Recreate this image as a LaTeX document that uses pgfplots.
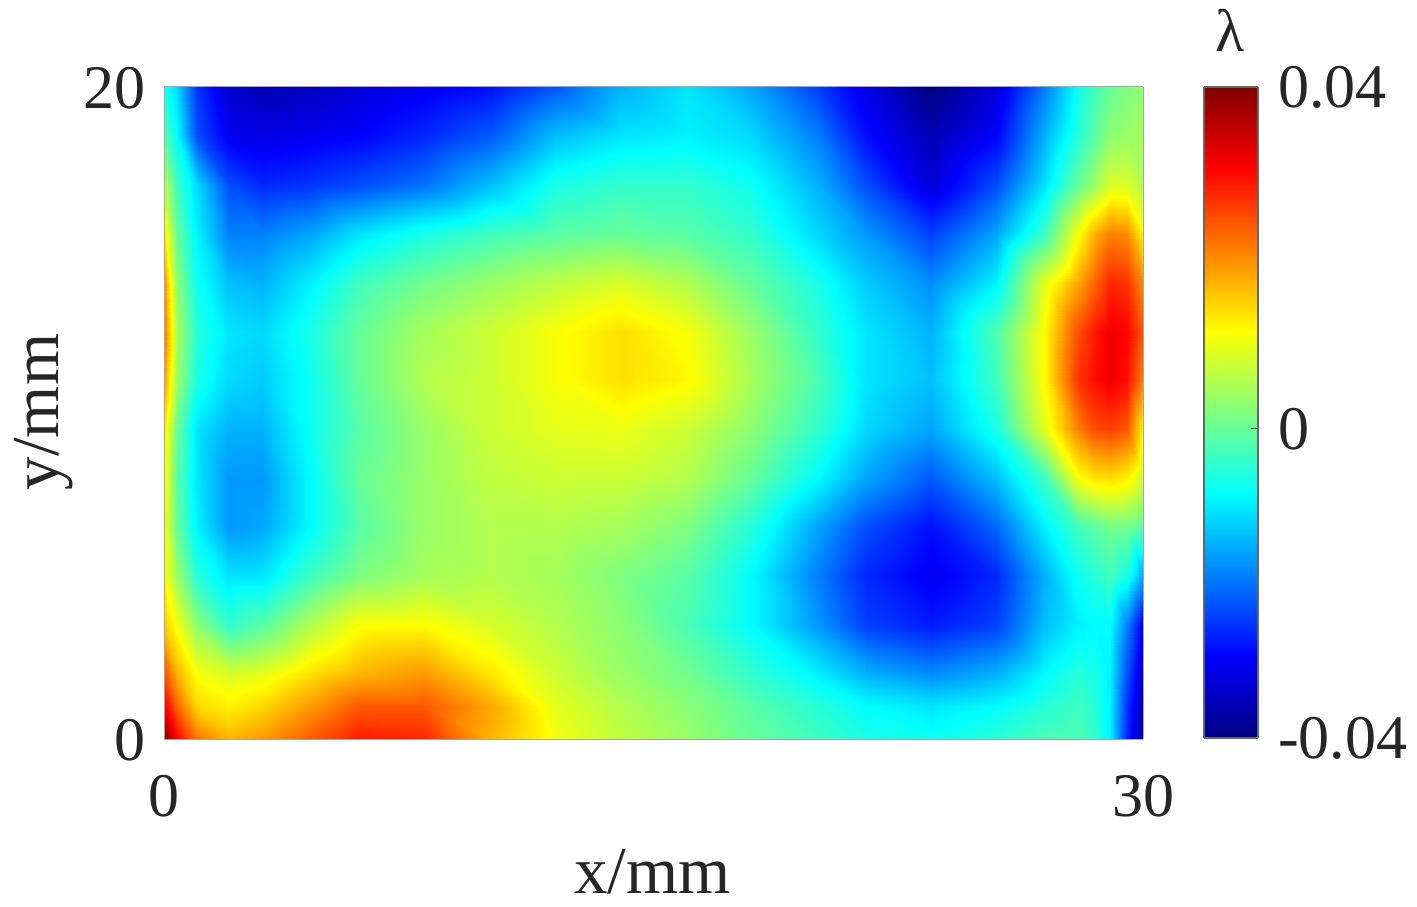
\documentclass[border=0pt]{standalone}
\usepackage{fontspec}
\setmainfont{Liberation Serif}
\usepackage{pgfplots}
\pgfplotsset{compat=1.18}
\pgfplotsset{colormap={myjet}{rgb255(0)=(0,0,128) rgb255(1)=(0,0,255) rgb255(3)=(0,255,255) rgb255(5)=(255,255,0) rgb255(7)=(255,0,0) rgb255(8)=(128,0,0)}}
\begin{document}
\begin{tikzpicture}
\useasboundingbox (0,0) rectangle (708.5pt,453pt);
\begin{axis}[
  at={(82pt,83.5pt)}, anchor=south west,
  scale only axis, width=489.5pt, height=326pt,
  xmin=0, xmax=30, ymin=0, ymax=20,
  view={0}{90},
  axis line style={gray!70, line width=0.5pt},
  xtick={0,30}, ytick={0,20},
  xticklabels={0,30}, yticklabels={0,20},
  major tick length=0pt,
  tick label style={font=\fontsize{31}{33}\selectfont, text=black!85},
  xticklabel style={yshift=-14.5pt},
  yticklabel style={xshift=-5.5pt, yshift=-0.75pt},
  xlabel={x/mm}, ylabel={y/mm},
  label style={font=\fontsize{33.5}{36}\selectfont, text=black!85},
  xlabel style={at={(axis description cs:0.499,-0.204)}, anchor=center},
  ylabel style={at={(axis description cs:-0.1225,0.5015)}, anchor=center},
  colormap name=myjet,
  point meta min=-0.04, point meta max=0.04,
]
\addplot3[surf, shader=interp, mesh/cols=23, mesh/ordering=x varies] coordinates {
(0,20,-0.008) (0.4,20,-0.013) (1,20,-0.026) (2,20,-0.034) (3,20,-0.036) (4.5,20,-0.035) (6,20,-0.033) (8,20,-0.031) (10,20,-0.029) (12,20,-0.023) (14,20,-0.016) (16,20,-0.012) (18,20,-0.017) (20,20,-0.025) (21.5,20,-0.032) (23.5,20,-0.040) (25.5,20,-0.033) (27,20,-0.020) (28,20,-0.009) (28.5,20,-0.005) (29,20,-0.002) (29.5,20,0.000) (30,20,0.001)
(0,18.5,-0.003) (0.4,18.5,-0.010) (1,18.5,-0.024) (2,18.5,-0.031) (3,18.5,-0.032) (4.5,18.5,-0.031) (6,18.5,-0.030) (8,18.5,-0.027) (10,18.5,-0.023) (12,18.5,-0.015) (14,18.5,-0.012) (16,18.5,-0.011) (18,18.5,-0.013) (20,18.5,-0.020) (21.5,18.5,-0.029) (23.5,18.5,-0.036) (25.5,18.5,-0.030) (27,18.5,-0.016) (28,18.5,-0.007) (28.5,18.5,-0.003) (29,18.5,0.001) (29.5,18.5,0.002) (30,18.5,0.003)
(0,17,0.005) (0.4,17,-0.005) (1,17,-0.013) (2,17,-0.024) (3,17,-0.027) (4.5,17,-0.026) (6,17,-0.024) (8,17,-0.021) (10,17,-0.015) (12,17,-0.008) (14,17,-0.006) (16,17,-0.006) (18,17,-0.009) (20,17,-0.016) (21.5,17,-0.024) (23.5,17,-0.033) (25.5,17,-0.024) (27,17,-0.012) (28,17,-0.002) (28.5,17,0.002) (29,17,0.007) (29.5,17,0.007) (30,17,0.004)
(0,15.5,0.012) (0.4,15.5,-0.002) (1,15.5,-0.011) (2,15.5,-0.020) (3,15.5,-0.020) (4.5,15.5,-0.017) (6,15.5,-0.012) (8,15.5,-0.008) (10,15.5,-0.005) (12,15.5,-0.003) (14,15.5,-0.002) (16,15.5,-0.003) (18,15.5,-0.006) (20,15.5,-0.013) (21.5,15.5,-0.018) (23.5,15.5,-0.025) (25.5,15.5,-0.017) (27,15.5,-0.005) (28,15.5,0.0095) (28.5,15.5,0.016) (29,15.5,0.020) (29.5,15.5,0.019) (30,15.5,0.0105)
(0,14,0.019) (0.4,14,0.001) (1,14,-0.009) (2,14,-0.015) (3,14,-0.016) (4.5,14,-0.011) (6,14,-0.005) (8,14,-0.001) (10,14,0.002) (12,14,0.005) (14,14,0.007) (16,14,0.004) (18,14,-0.002) (20,14,-0.008) (21.5,14,-0.014) (23.5,14,-0.019) (25.5,14,-0.011) (27,14,0.008) (28,14,0.017) (28.5,14,0.022) (29,14,0.027) (29.5,14,0.026) (30,14,0.019)
(0,12.5,0.021) (0.4,12.5,0.003) (1,12.5,-0.007) (2,12.5,-0.012) (3,12.5,-0.013) (4.5,12.5,-0.008) (6,12.5,-0.002) (8,12.5,0.003) (10,12.5,0.006) (12,12.5,0.0095) (14,12.5,0.0125) (16,12.5,0.0095) (18,12.5,0.002) (20,12.5,-0.006) (21.5,12.5,-0.012) (23.5,12.5,-0.016) (25.5,12.5,-0.004) (27,12.5,0.0105) (28,12.5,0.024) (28.5,12.5,0.028) (29,12.5,0.031) (29.5,12.5,0.030) (30,12.5,0.023)
(0,11,0.018) (0.4,11,0.002) (1,11,-0.008) (2,11,-0.013) (3,11,-0.014) (4.5,11,-0.009) (6,11,-0.002) (8,11,0.004) (10,11,0.006) (12,11,0.0095) (14,11,0.0125) (16,11,0.0105) (18,11,0.003) (20,11,-0.004) (21.5,11,-0.012) (23.5,11,-0.015) (25.5,11,-0.005) (27,11,0.0105) (28,11,0.026) (28.5,11,0.029) (29,11,0.031) (29.5,11,0.029) (30,11,0.020)
(0,9.5,0.012) (0.4,9.5,-0.002) (1,9.5,-0.012) (2,9.5,-0.016) (3,9.5,-0.016) (4.5,9.5,-0.009) (6,9.5,-0.003) (8,9.5,0.002) (10,9.5,0.006) (12,9.5,0.008) (14,9.5,0.0085) (16,9.5,0.006) (18,9.5,0.001) (20,9.5,-0.006) (21.5,9.5,-0.013) (23.5,9.5,-0.017) (25.5,9.5,-0.008) (27,9.5,0.008) (28,9.5,0.020) (28.5,9.5,0.024) (29,9.5,0.025) (29.5,9.5,0.023) (30,9.5,0.0105)
(0,8,0.010) (0.4,8,-0.003) (1,8,-0.012) (2,8,-0.018) (3,8,-0.018) (4.5,8,-0.010) (6,8,-0.002) (8,8,0.002) (10,8,0.005) (12,8,0.006) (14,8,0.006) (16,8,0.004) (18,8,-0.002) (20,8,-0.010) (21.5,8,-0.017) (23.5,8,-0.023) (25.5,8,-0.015) (27,8,-0.005) (28,8,0.0095) (28.5,8,0.012) (29,8,0.0125) (29.5,8,0.011) (30,8,0.006)
(0,6.5,0.009) (0.4,6.5,-0.002) (1,6.5,-0.011) (2,6.5,-0.018) (3,6.5,-0.017) (4.5,6.5,-0.010) (6,6.5,-0.003) (8,6.5,0.002) (10,6.5,0.004) (12,6.5,0.004) (14,6.5,0.003) (16,6.5,0.000) (18,6.5,-0.007) (20,6.5,-0.017) (21.5,6.5,-0.024) (23.5,6.5,-0.029) (25.5,6.5,-0.022) (27,6.5,-0.011) (28,6.5,-0.005) (28.5,6.5,-0.003) (29,6.5,-0.001) (29.5,6.5,-0.001) (30,6.5,-0.003)
(0,5,0.010) (0.4,5,0.002) (1,5,-0.007) (2,5,-0.012) (3,5,-0.012) (4.5,5,-0.005) (6,5,0.000) (8,5,0.003) (10,5,0.004) (12,5,0.003) (14,5,0.000) (16,5,-0.003) (18,5,-0.010) (20,5,-0.020) (21.5,5,-0.027) (23.5,5,-0.031) (25.5,5,-0.027) (27,5,-0.016) (28,5,-0.009) (28.5,5,-0.007) (29,5,-0.005) (29.5,5,-0.008) (30,5,-0.017)
(0,3.5,0.014) (0.4,3.5,0.009) (1,3.5,0.001) (2,3.5,-0.006) (3,3.5,-0.003) (4.5,3.5,0.004) (6,3.5,0.0098) (8,3.5,0.0102) (10,3.5,0.007) (12,3.5,0.004) (14,3.5,0.001) (16,3.5,-0.004) (18,3.5,-0.010) (20,3.5,-0.018) (21.5,3.5,-0.025) (23.5,3.5,-0.028) (25.5,3.5,-0.025) (27,3.5,-0.015) (28,3.5,-0.011) (28.5,3.5,-0.010) (29,3.5,-0.010) (29.5,3.5,-0.020) (30,3.5,-0.031)
(0,2,0.024) (0.4,2,0.016) (1,2,0.0095) (2,2,0.007) (3,2,0.008) (4.5,2,0.0125) (6,2,0.016) (8,2,0.018) (10,2,0.012) (12,2,0.006) (14,2,0.002) (16,2,-0.001) (18,2,-0.006) (20,2,-0.011) (21.5,2,-0.016) (23.5,2,-0.019) (25.5,2,-0.016) (27,2,-0.010) (28,2,-0.007) (28.5,2,-0.008) (29,2,-0.011) (29.5,2,-0.024) (30,2,-0.034)
(0,1,0.031) (0.4,1,0.022) (1,1,0.013) (2,1,0.011) (3,1,0.013) (4.5,1,0.018) (6,1,0.023) (8,1,0.023) (10,1,0.017) (12,1,0.008) (14,1,0.004) (16,1,0.001) (18,1,-0.003) (20,1,-0.007) (21.5,1,-0.010) (23.5,1,-0.012) (25.5,1,-0.010) (27,1,-0.007) (28,1,-0.005) (28.5,1,-0.007) (29,1,-0.011) (29.5,1,-0.026) (30,1,-0.036)
(0,0,0.040) (0.4,0,0.030) (1,0,0.021) (2,0,0.016) (3,0,0.018) (4.5,0,0.023) (6,0,0.028) (8,0,0.027) (10,0,0.016) (12,0,0.009) (14,0,0.005) (16,0,0.002) (18,0,-0.002) (20,0,-0.005) (21.5,0,-0.008) (23.5,0,-0.009) (25.5,0,-0.007) (27,0,-0.004) (28,0,-0.004) (28.5,0,-0.006) (29,0,-0.011) (29.5,0,-0.027) (30,0,-0.038)
};
\end{axis}
\begin{axis}[
  at={(602pt,84pt)}, anchor=south west,
  scale only axis, width=27pt, height=325.5pt,
  xmin=0, xmax=1, ymin=-0.04, ymax=0.04,
  view={0}{90},
  colormap name=myjet,
  point meta min=-0.04, point meta max=0.04,
  axis line style={gray!80!black, line width=0.6pt},
  xtick=\empty,
  ytick={-0.04,-0.002,0.04}, yticklabels={-0.04,0,0.04},
  scaled y ticks=false,
  ytick pos=right, yticklabel pos=right,
  tick align=inside, major tick length=3.5pt,
  tick style={black!70, line width=0.5pt},
  yticklabel style={font=\fontsize{31}{33}\selectfont, text=black!85, anchor=west, xshift=6.5pt},
]
\addplot3[surf, shader=interp, mesh/cols=2, mesh/ordering=x varies] coordinates {
(0,-0.04,-0.04) (1,-0.04,-0.04)
(0,0.04,0.04) (1,0.04,0.04)
};
\end{axis}
\node[font=\fontsize{30}{32}\selectfont, text=black!85] at (615pt,438pt) {λ};
\end{tikzpicture}
\end{document}
